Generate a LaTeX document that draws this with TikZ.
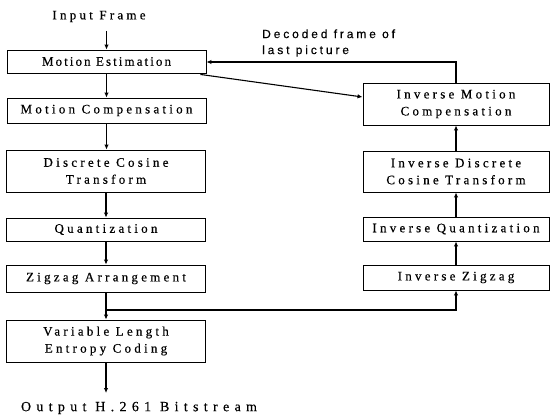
\documentclass[tikz,border=0pt]{standalone}
\usepackage{fontspec}
\setmainfont{Liberation Serif}[LetterSpace=25,FakeBold=0.4]
\newfontfamily\decfont{Liberation Sans}[LetterSpace=24,FakeBold=0.3]
\usetikzlibrary{arrows.meta}
\begin{document}
\begin{tikzpicture}[x=1pt,y=-1pt,
  blk/.style={draw,line width=0.9pt,align=center,inner sep=0pt,font=\fontsize{13}{17}\selectfont},
  lbox/.style={blk,minimum width=199pt},
  rbox/.style={blk,minimum width=186pt},
  conn/.style={line width=1.1pt},
  arr/.style={conn,-{Latex[length=5pt,width=4.5pt]}},
  lbl/.style={inner sep=0pt,font=\fontsize{13}{17}\selectfont}]
\useasboundingbox (0,0) rectangle (553,417);
% left column
\node[lbox,minimum height=23pt,font=\fontsize{13}{17}\selectfont\addfontfeature{LetterSpace=16}] (me) at (106.5,61.5) {Motion Estimation};
\node[lbox,minimum height=25pt] (mc) at (106.5,110.5) {Motion Compensation};
\node[lbox,minimum height=42pt] (dct) at (106,171) {Discrete Cosine\\Transform};
\node[lbox,minimum height=23pt] (q) at (106,229.5) {Quantization};
\node[lbox,minimum height=27pt] (za) at (106,278.5) {Zigzag Arrangement};
\node[lbox,minimum height=42pt] (vlc) at (106,341) {Variable Length\\Entropy Coding};
% right column
\node[rbox,minimum height=42pt] (imc) at (456,104) {Inverse Motion\\Compensation};
\node[rbox,minimum height=41pt] (idct) at (456,171.5) {Inverse Discrete\\Cosine Transform};
\node[rbox,minimum height=24pt] (iq) at (456,229) {Inverse Quantization};
\node[rbox,minimum height=25pt] (iz) at (456,277.5) {Inverse Zigzag};
% labels
\node[lbl] (in) at (99,16.5) {Input Frame};
\node[lbl,font=\fontsize{14}{17}\selectfont\addfontfeature{LetterSpace=38}] (out) at (139,408) {Output H.261 Bitstream};
\node[lbl,anchor=west,align=left,font=\fontsize{12}{16}\decfont] (dec) at (262,43) {Decoded frame of\\last picture};
% coordinates
\coordinate (inS) at (106.5,31);
\coordinate (outE) at (106,393);
\coordinate (jn) at (106,310);
\coordinate (fb) at (456,62);
% connectors
\draw[arr] (inS) -- (me.north);
\draw[arr] (me.south) -- (mc.north);
\draw[arr] (mc.south) -- (mc.south |- dct.north);
\draw[arr] (dct.south) -- (q.north);
\draw[arr] (q.south) -- (za.north);
\draw[arr] (za.south) -- (vlc.north);
\draw[arr] (vlc.south) -- (outE);
\draw[arr] (jn) -| (iz.south);
\draw[arr] (iz.north) -- (iq.south);
\draw[arr] (iq.north) -- (idct.south);
\draw[arr] (idct.north) -- (imc.south);
\draw[arr] (imc.north) -- (fb) -- (me.east |- fb);
\draw[arr] ([xshift=-6pt,yshift=-1pt]me.south east) -- ([yshift=7pt]imc.west);
\end{tikzpicture}
\end{document}
